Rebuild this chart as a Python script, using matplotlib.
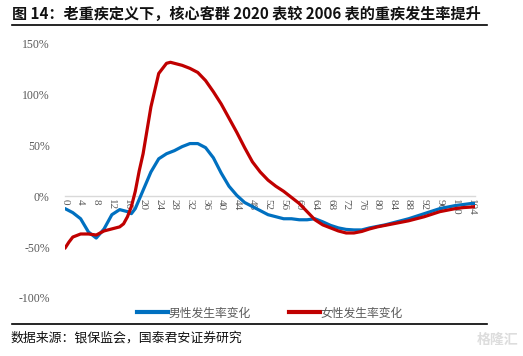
import matplotlib
matplotlib.use("Agg")
import matplotlib.pyplot as plt
from matplotlib.lines import Line2D

ages_m = [0, 2, 4, 6, 8, 10, 12, 14, 16, 17, 18, 20, 22, 24, 26, 28, 30, 32, 34, 36,
          38, 40, 42, 44, 46, 48, 50, 52, 54, 56, 58, 60, 62, 64, 66, 68, 70, 72, 74,
          76, 78, 80, 82, 84, 86, 88, 90, 92, 94, 96, 98, 100, 102, 104, 105]
male = [-12, -16, -22, -35, -41, -32, -18, -13, -15, -17, -12, 6, 24, 37, 42, 45, 49, 52, 52, 48,
        38, 23, 10, 1, -6, -10, -14, -18, -20, -22, -22, -23, -23, -22, -25, -28.5, -31, -32.5, -33,
        -33, -31, -29.5, -28, -26, -24, -22, -19.5, -17, -14.5, -12, -10.5, -9, -8, -7, -7]

ages_f = [0, 1, 2, 4, 6, 8, 10, 12, 14, 15, 16, 17, 18, 19, 20, 22, 24, 26, 27, 28, 30, 32, 34,
          36, 38, 40, 42, 44, 46, 48, 50, 52, 54, 56, 58, 60, 62, 64, 66, 68, 70, 72, 74,
          76, 78, 80, 82, 84, 86, 88, 90, 92, 94, 96, 98, 100, 102, 104, 105]
female = [-51, -45, -40, -37, -37, -38, -34, -32, -30, -27, -20, -10, 5, 25, 42, 88, 121, 131, 132, 131,
          129, 126, 122, 114, 103, 91, 77, 63, 48, 34, 24, 16, 10, 5, -1, -7, -15, -23, -28, -31,
          -34, -36, -36, -34.5, -32, -30, -28.5, -27, -25.5, -24, -22, -20, -17.5, -15, -13.5,
          -12, -11, -10.5, -10]

xticks = list(range(0, 105, 4))
yticks = [-100, -50, 0, 50, 100, 150]

title = "图 14：老重疾定义下，核心客群 2020 表较 2006 表的重疾发生率提升"
source = "数据来源：银保监会，国泰君安证券研究"
labels = ["男性发生率变化", "女性发生率变化"]
colors = ["#0070C0", "#C00000"]

W, H = 523, 356
fig = plt.figure(figsize=(W / 100, H / 100), dpi=100)
ax = fig.add_axes([65 / W, 1 - 298 / H, (475 - 65) / W, (298 - 44) / H])

ax.plot(ages_m, male, color=colors[0], lw=2.3, solid_capstyle="round", solid_joinstyle="round", zorder=3)
ax.plot(ages_f, female, color=colors[1], lw=2.3, solid_capstyle="round", solid_joinstyle="round", zorder=3)

ax.set_xlim(0, 105)
ax.set_ylim(-100, 150)
for s in ["top", "right", "left"]:
    ax.spines[s].set_visible(False)
ax.spines["bottom"].set_position(("data", 0))
ax.spines["bottom"].set_color("#d9d9d9")
ax.spines["bottom"].set_linewidth(1.0)
ax.spines["bottom"].set_zorder(1)

ax.set_yticks(yticks)
ax.set_yticklabels([f"{v}%" for v in yticks], family="Liberation Serif", fontsize=8.5, color="#595959")
ax.set_xticks(xticks)
ax.set_xticklabels([str(v) for v in xticks], family="Liberation Serif", fontsize=8,
                   color="#595959", rotation=-90, va="top", ha="center")
ax.tick_params(axis="both", length=0, pad=2)
ax.tick_params(axis="y", pad=11)

# title
fig.text(12 / W, 1 - 14 / H, title, family=["Noto Sans CJK SC", "DejaVu Sans"],
         fontsize=10.9, fontweight="bold", ha="left", va="center", color="#111111")
fig.add_artist(Line2D([12 / W, 487 / W], [1 - 25 / H, 1 - 25 / H], color="black", lw=1.2))
fig.add_artist(Line2D([12 / W, 487 / W], [1 - 324 / H, 1 - 324 / H], color="black", lw=1.2))

# legend
handles = [Line2D([], [], color=c, lw=3) for c in colors]
leg = fig.legend(handles, labels, loc="center", bbox_to_anchor=(270 / W, 1 - 313 / H),
                 ncol=2, frameon=False, handlelength=2.6, handletextpad=0.1, columnspacing=3.2,
                 prop={"family": ["Noto Sans CJK SC", "DejaVu Sans"], "size": 8.5})
for t in leg.get_texts():
    t.set_color("#595959")

fig.text(10 / W, 1 - 338 / H, source, family=["Noto Sans CJK SC", "DejaVu Sans"],
         fontsize=9.3, ha="left", va="center", color="#111111")
fig.text(518 / W, 1 - 340 / H, "格隆汇", family=["Noto Sans CJK SC", "DejaVu Sans"],
         fontsize=10, fontweight="bold", ha="right", va="center", color="#dddddd")

fig.savefig("out.png", dpi=100)
